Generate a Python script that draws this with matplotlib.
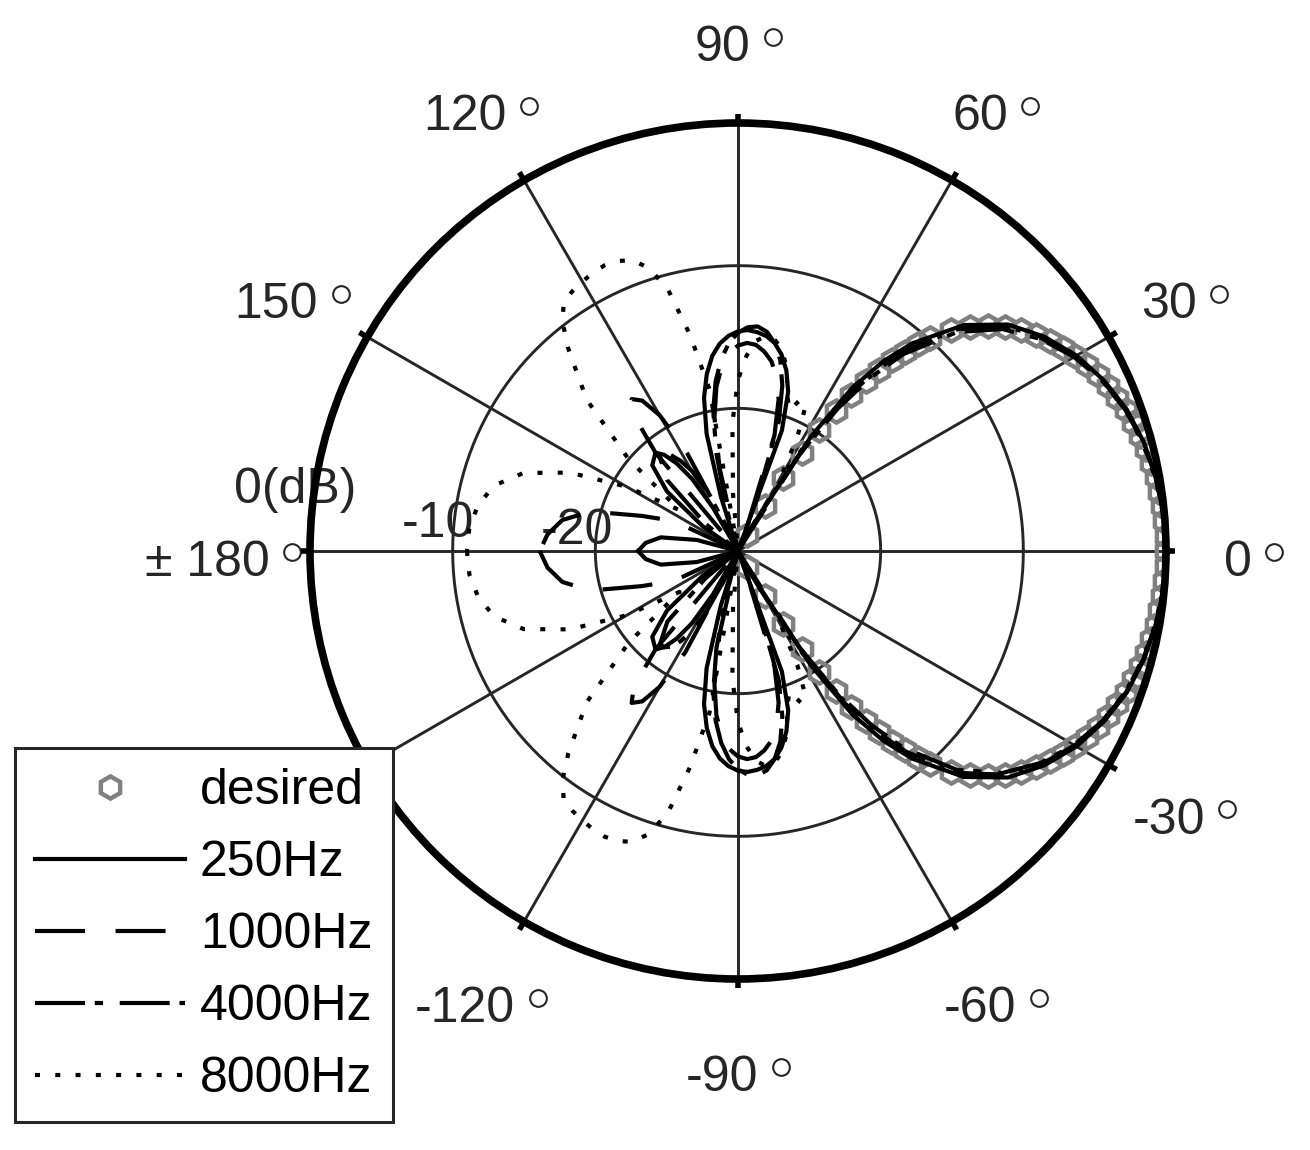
import numpy as np
import matplotlib.pyplot as plt
from matplotlib.transforms import offset_copy

plt.rcParams['font.family'] = ['Liberation Sans', 'DejaVu Sans']
plt.rcParams['lines.scale_dashes'] = False

# angles (deg) for the measured half pattern, mirrored to negative angles
ang = [0, 5, 10, 15, 20, 25, 30, 35, 40, 45, 50,
       52.5, 55, 57.5, 60, 62.5, 65, 67.5, 70, 72.5, 75, 77.5, 80, 82.5, 85, 87.5, 90,
       92.5, 95, 97.5, 100, 102.5, 105, 107.5, 110, 112.5, 115, 117.5, 120, 122.5, 125, 127.5, 130,
       135, 140, 145, 150, 155, 160, 165, 170, 175, 180]

# directivity in dB
db_250 = [0, -0.05, -0.25, -0.55, -1.0, -1.7, -2.6, -3.8, -5.3, -7.6, -11.0,
          -13.2, -16.0, -20.5, -28, -36, -38, -30, -21, -18.3, -16.9, -15.9, -15.2, -14.8, -14.6, -14.5, -14.6,
          -14.9, -15.4, -16.2, -17.4, -19, -21.5, -26, -34, -38, -35, -30, -26.5, -24, -22.5, -21.5, -21,
          -21.5, -23.5, -27, -34, -38, -32, -27, -24.5, -23.5, -23]
db_1000 = [0, -0.05, -0.25, -0.6, -1.05, -1.8, -2.75, -4.0, -5.6, -8.0, -11.6,
           -14, -17, -22, -30, -38, -40, -38, -28, -21.5, -19, -17.5, -16.5, -15.9, -15.5, -15.4, -15.6,
           -16.1, -17, -18.4, -20.5, -24, -30, -38, -40, -36, -28, -22, -19, -17.5, -17, -18, -21,
           -30, -38, -40, -30, -25, -22.8, -19.3, -17.5, -16.6, -16.1]
db_4000 = [0, -0.05, -0.28, -0.6, -1.1, -1.8, -2.8, -4.1, -5.8, -8.3, -12,
           -14.6, -17.8, -22, -27, -33, -38, -34, -26, -20.5, -18, -16.3, -15.2, -14.5, -14.2, -14.3, -14.7,
           -15.4, -16.5, -18, -20, -23, -27, -32, -36, -33, -28, -25, -23.5, -22.5, -21.8, -21.5, -21.5,
           -23, -27, -33, -38, -40, -40, -40, -40, -40, -40]
db_8000 = [0, -0.1, -0.3, -0.65, -1.1, -1.8, -2.7, -3.9, -5.5, -7.9, -11.5,
           -14, -17.5, -21, -24, -21, -18.8, -18.5, -19.5, -18.5, -16.8, -15.6, -15, -14.8, -15.2, -16.3, -18,
           -21, -26, -30, -18.5, -14.5, -11, -9.2, -8.3, -8.0, -7.9, -8.0, -8.2, -8.4, -8.7, -9.8, -11.5,
           -15, -20, -25, -21, -17, -14, -12.3, -11.5, -11.1, -11]

# target pattern (markers)
ang_des = [0, 2, 4, 6, 8, 10, 12, 14, 16, 18, 20, 22, 24, 26, 28, 30, 32, 34, 36, 38, 40, 42,
           44, 46, 48, 49, 50, 51, 52, 53, 54, 55, 56, 57, 58, 59, 60]
db_des = [0, -0.01, -0.04, -0.1, -0.17, -0.27, -0.38, -0.52, -0.68, -0.87, -1.08, -1.32, -1.6,
          -1.92, -2.28, -2.7, -3.15, -3.65, -4.2, -4.85, -5.55, -6.4, -7.4, -8.5, -9.9, -10.8,
          -11.8, -12.8, -13.9, -15.1, -16.5, -18.0, -19.8, -21.8, -24.0, -26.3, -28.7]

ring_db = [-10, -20]
ring_labels = ['0(dB)', '-10', '-20']
ring_label_pos = [(172.2, 31.3), (174.9, 21.1), (172.9, 11.35)]
spoke_deg = np.arange(0, 360, 30)
theta_labels = {0: '0', 30: '30', 60: '60', 90: '90', 120: '120', 150: '150',
                180: '± 180', -120: '-120', -90: '-90', -60: '-60', -30: '-30'}

rmin = -30  # centre of the plot


def mirror(a, v):
    a = np.asarray(a, float)
    v = np.asarray(v, float)
    return np.concatenate([-a[::-1][:-1], a]), np.concatenate([v[::-1][:-1], v])


def to_r(v):
    return np.clip(np.asarray(v) - rmin, 0, None)


fig = plt.figure(figsize=(13.1, 11.5), dpi=100)
ax = fig.add_axes([310 / 1310, (1150 - 979) / 1150, 856 / 1310, 856 / 1150], projection='polar')
ax.set_ylim(0, -rmin)
ax.set_autoscale_on(False)
ax.set_xticks([])
ax.set_yticks([])
ax.grid(False)
ax.spines['polar'].set_linewidth(5.5)
ax.spines['polar'].set_color('black')
ax.spines['polar'].set_zorder(10)

grid_c = '#262626'
full = np.linspace(0, 2 * np.pi, 361)
for d in ring_db:
    ax.plot(full, np.full_like(full, d - rmin), color=grid_c, lw=2.1, zorder=1)
for s in spoke_deg:
    t = np.deg2rad(s)
    ax.plot([t, t], [0, -rmin], color=grid_c, lw=2.1, zorder=1)
    ax.plot([t, t], [-rmin, -rmin + 0.65], color='black', lw=4, zorder=10, clip_on=False,
            solid_capstyle='butt')

# angle labels: number + small open circle for the degree sign
renderer = fig.canvas.get_renderer()
lab_tr = offset_copy(ax.transData, fig=fig, x=0, y=-12, units='dots')
gap, wc = 14, 17
for a, s in theta_labels.items():
    th = np.deg2rad(a)
    t = ax.text(th, 36.1, s, ha='center', va='center', fontsize=36, color=grid_c, transform=lab_tr)
    wn = t.get_window_extent(renderer).width
    dx = -(gap + wc) / 2
    t.set_transform(offset_copy(lab_tr, fig=fig, x=dx, y=0, units='dots'))
    ax.plot([th], [36.1], marker='o', ms=12, mfc='none', mec=grid_c, mew=1.5, clip_on=False,
            transform=offset_copy(lab_tr, fig=fig, x=wn / 2 + dx + gap + wc / 2, y=11.3,
                                  units='dots'))
for s, (a, r) in zip(ring_labels, ring_label_pos):
    ax.text(np.deg2rad(a), r, s, ha='center', va='center', fontsize=36, color=grid_c)

a_d, v_d = mirror(ang_des, db_des)
h_des, = ax.plot(np.deg2rad(a_d), to_r(v_d), linestyle='none', marker='h', ms=16,
                 mfc='none', mec='#808080', mew=3.2, zorder=3, label='desired')

styles = [
    (db_250, '250Hz', dict(linestyle='-')),
    (db_1000, '1000Hz', dict(dashes=(36, 22))),
    (db_4000, '4000Hz', dict(dashes=(36, 7, 6, 12))),
    (db_8000, '8000Hz', dict(dashes=(3.6, 11))),
]
handles = [h_des]
for vals, lab, st in styles:
    a_f, v_f = mirror(ang, vals)
    h, = ax.plot(np.deg2rad(a_f), to_r(v_f), color='black', lw=3.0, zorder=4, label=lab,
                 dash_capstyle='butt', **st)
    handles.append(h)

leg = ax.legend(handles=handles, loc='lower left', bbox_to_anchor=(15 / 1310, 28 / 1150),
                bbox_transform=fig.transFigure, fontsize=36, frameon=True, fancybox=False,
                framealpha=1, edgecolor=grid_c, borderaxespad=0, borderpad=0.4,
                handlelength=3.0, handletextpad=0.3, labelspacing=0.52)
leg.get_frame().set_linewidth(2.2)
leg.set_zorder(20)

fig.savefig('out.png', dpi=100)
